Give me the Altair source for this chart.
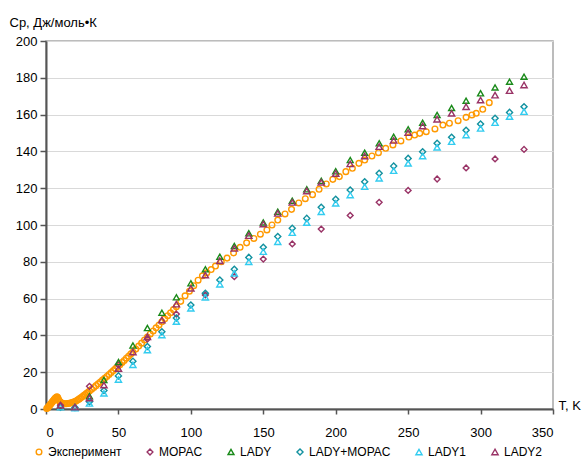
import altair as alt
import pandas as pd

# Experimental data (T, Cp)
exp_T = [0.5, 1, 1.5, 2, 2.5, 3, 3.5, 4, 4.5, 5, 5.5, 6, 6.5, 7, 7.5, 8, 8.5, 9, 9.5, 10,
         11, 12, 13, 14, 15, 16, 17, 18, 19, 20, 21, 22, 23, 24, 25, 26, 27, 28, 29, 30,
         31.5, 33, 34.5, 36, 37.5, 39, 40.5, 42, 43.5, 45, 46.5, 48, 49.5, 51, 52.5, 54,
         55.5, 57, 58.5, 60, 62, 64, 66, 68, 70, 72, 74, 76, 78, 80, 82, 84, 86, 88, 90,
         93, 96, 99, 102, 105, 108, 111, 114, 117, 121, 125, 129.5, 134, 138.5, 143.5,
         148, 152.5, 156, 160, 165, 169.5, 174.5, 179, 184, 188.5, 193.5, 198, 202.5,
         207, 211.5, 216, 220, 225, 229.5, 234.5, 239.5, 245, 250.5, 254.5, 258, 262.5,
         268.5, 274, 278.5, 284.5, 290, 294, 297, 301.5, 306]
exp_Cp = [0.3, 0.6, 1.0, 1.5, 2.0, 2.5, 3.0, 3.5, 4.0, 4.5, 5.0, 5.5, 5.9, 6.3, 6.6, 6.4, 5.5, 4.6, 4.0, 3.6,
          3.2, 3.0, 2.9, 2.9, 3.0, 3.1, 3.3, 3.5, 3.8, 4.1, 4.5, 5.0, 5.5, 6.1, 6.7, 7.3, 7.9, 8.5, 9.1, 9.8,
          10.7, 11.7, 12.7, 13.7, 14.7, 15.7, 16.7, 17.7, 18.8, 19.8, 20.9, 22.0, 23.0, 24.1, 25.3, 26.4,
          27.6, 28.7, 29.9, 31.0, 32.6, 34.2, 35.8, 37.5, 39.1, 40.8, 42.4, 44.1, 45.7, 47.4, 49.0, 50.7, 52.3, 54.0, 55.6,
          58.5, 61.5, 64.0, 67.0, 70.0, 72.4, 74.0, 75.8, 77.7, 80.0, 82.0, 84.8, 87.9, 90.3, 92.7,
          95.0, 97.3, 100.0, 102.7, 106.0, 108.5, 112.0, 114.3, 116.5, 119.4, 122.3, 124.8, 126.3,
          129.0, 130.8, 133.5, 135.3, 137.5, 139.3, 141.7, 143.5, 145.7, 147.8, 148.9, 149.8, 150.7,
          152.2, 154.3, 155.3, 156.7, 158.5, 159.8, 160.7, 162.9, 166.5]

# Model temperatures
model_T = [10, 20, 30, 40, 50, 60, 70, 80, 90, 100, 110, 120, 130, 140, 150, 160, 170,
           180, 190, 200, 210, 220, 230, 240, 250, 260, 270, 280, 290, 300, 310, 320, 330]
mopac_T = [10, 30, 50, 70, 90, 110, 130, 150, 170, 190, 210, 230, 250, 270, 290, 310, 330]

mopac_Cp = [2.0, 12.3, 24.0, 38.0, 51.6, 62.0, 71.9, 81.5, 89.7, 97.8, 105.2, 112.3,
            118.8, 125.0, 131.0, 135.9, 141.1]
lady_Cp = [1.5, 1.0, 7.0, 15.8, 25.5, 34.5, 44.0, 52.3, 60.7, 68.3, 75.9, 82.8, 88.6, 95.5,
           101.4, 107.2, 113.2, 119.4, 124.0, 129.2, 135.3, 139.3, 144.4, 148.0, 152.0, 155.6,
           159.8, 163.6, 167.6, 171.6, 174.8, 177.9, 180.6]
ladymopac_Cp = [1.0, 0.8, 4.0, 10.0, 18.0, 26.0, 34.0, 42.0, 49.5, 56.5, 62.9, 70.1, 75.9,
                82.4, 87.9, 93.7, 98.2, 103.6, 109.6, 114.0, 119.0, 123.5, 128.1, 132.0, 136.2,
                139.8, 144.4, 147.7, 151.5, 154.9, 158.0, 161.2, 164.3]
lady1_Cp = [1.0, 0.5, 3.0, 8.5, 16.0, 24.0, 32.0, 40.2, 47.5, 54.7, 60.7, 67.8, 73.7, 80.0,
            85.5, 90.9, 95.8, 101.3, 107.2, 111.8, 116.3, 120.8, 125.4, 129.5, 133.5, 137.5,
            142.2, 145.3, 148.9, 152.5, 155.6, 158.9, 161.6]
lady2_Cp = [2.0, 1.0, 6.0, 13.0, 22.0, 31.0, 39.3, 48.4, 57.0, 65.6, 72.8, 80.6, 87.3, 94.2,
            100.5, 106.3, 112.3, 118.5, 123.2, 128.0, 133.2, 137.5, 142.6, 146.0, 150.2, 153.8,
            157.5, 160.7, 164.3, 167.9, 170.6, 173.0, 176.1]

series_names = ["Эксперимент", "MOPAC", "LADY", "LADY+MOPAC", "LADY1", "LADY2"]
series_colors = ["#FF9900", "#993366", "#1A8A1A", "#12919F", "#33CCF0", "#993366"]
series_shapes = ["circle", "diamond", "triangle-up", "diamond", "triangle-up", "triangle-up"]
series_sizes = [32, 40, 50, 40, 50, 50]

rows = []
series_data = [
    (exp_T, exp_Cp),
    (mopac_T, mopac_Cp),
    (model_T, lady_Cp),
    (model_T, ladymopac_Cp),
    (model_T, lady1_Cp),
    (model_T, lady2_Cp),
]
k = 0
for name, (ts, cs) in zip(series_names, series_data):
    for t, c in zip(ts, cs):
        rows.append({"T": t, "Cp": c, "series": name, "idx": k})
        k += 1
df = pd.DataFrame(rows)

chart = alt.Chart(df).mark_point(filled=False, strokeWidth=1.4, opacity=1).encode(
    x=alt.X("T:Q",
            scale=alt.Scale(domain=[0, 350], nice=False, zero=True),
            axis=alt.Axis(values=[0, 50, 100, 150, 200, 250, 300, 350], grid=False,
                          title="T, K", titleAlign="left", titleBaseline="middle",
                          titleX=512, titleY=-4, titleFontWeight="normal",
                          tickSize=5, labelPadding=12)),
    y=alt.Y("Cp:Q",
            scale=alt.Scale(domain=[0, 200], nice=False),
            axis=alt.Axis(values=list(range(0, 201, 20)), grid=True,
                          title="Cp, Дж/моль•К", titleAngle=0, titleAlign="left",
                          titleBaseline="middle", titleX=-37, titleY=-19,
                          titleFontWeight="normal", tickSize=6, labelPadding=3)),
    color=alt.Color("series:N", scale=alt.Scale(domain=series_names, range=series_colors),
                    legend=alt.Legend(title=None)),
    shape=alt.Shape("series:N", scale=alt.Scale(domain=series_names, range=series_shapes),
                    legend=alt.Legend(title=None)),
    size=alt.Size("series:N", scale=alt.Scale(domain=series_names, range=series_sizes),
                  legend=None),
    order=alt.Order("idx:Q"),
).properties(
    width=507, height=368,
    autosize="none",
    padding={"left": 46, "top": 41, "right": 31, "bottom": 52},
).configure(
    font="Liberation Sans",
).configure_view(
    stroke="#A6A6A6", strokeWidth=1.5,
).configure_axis(
    domainColor="#555555", domainWidth=2, tickColor="#555555", tickWidth=1.5,
    labelFont="Liberation Sans", labelFontSize=13, labelColor="#000000",
    titleFont="Liberation Sans", titleFontSize=13, titleColor="#000000",
    gridColor="#D9D9D9", gridWidth=1,
).configure_legend(
    orient="none", legendX=-13, legendY=405, direction="horizontal",
    labelFont="Liberation Sans", labelFontSize=12, labelColor="#000000",
    symbolSize=26, symbolStrokeWidth=1.4, columnPadding=22, labelOffset=3,
    symbolType="circle",
)

chart.save("out.html", embed_options={"renderer": "svg", "actions": False})
